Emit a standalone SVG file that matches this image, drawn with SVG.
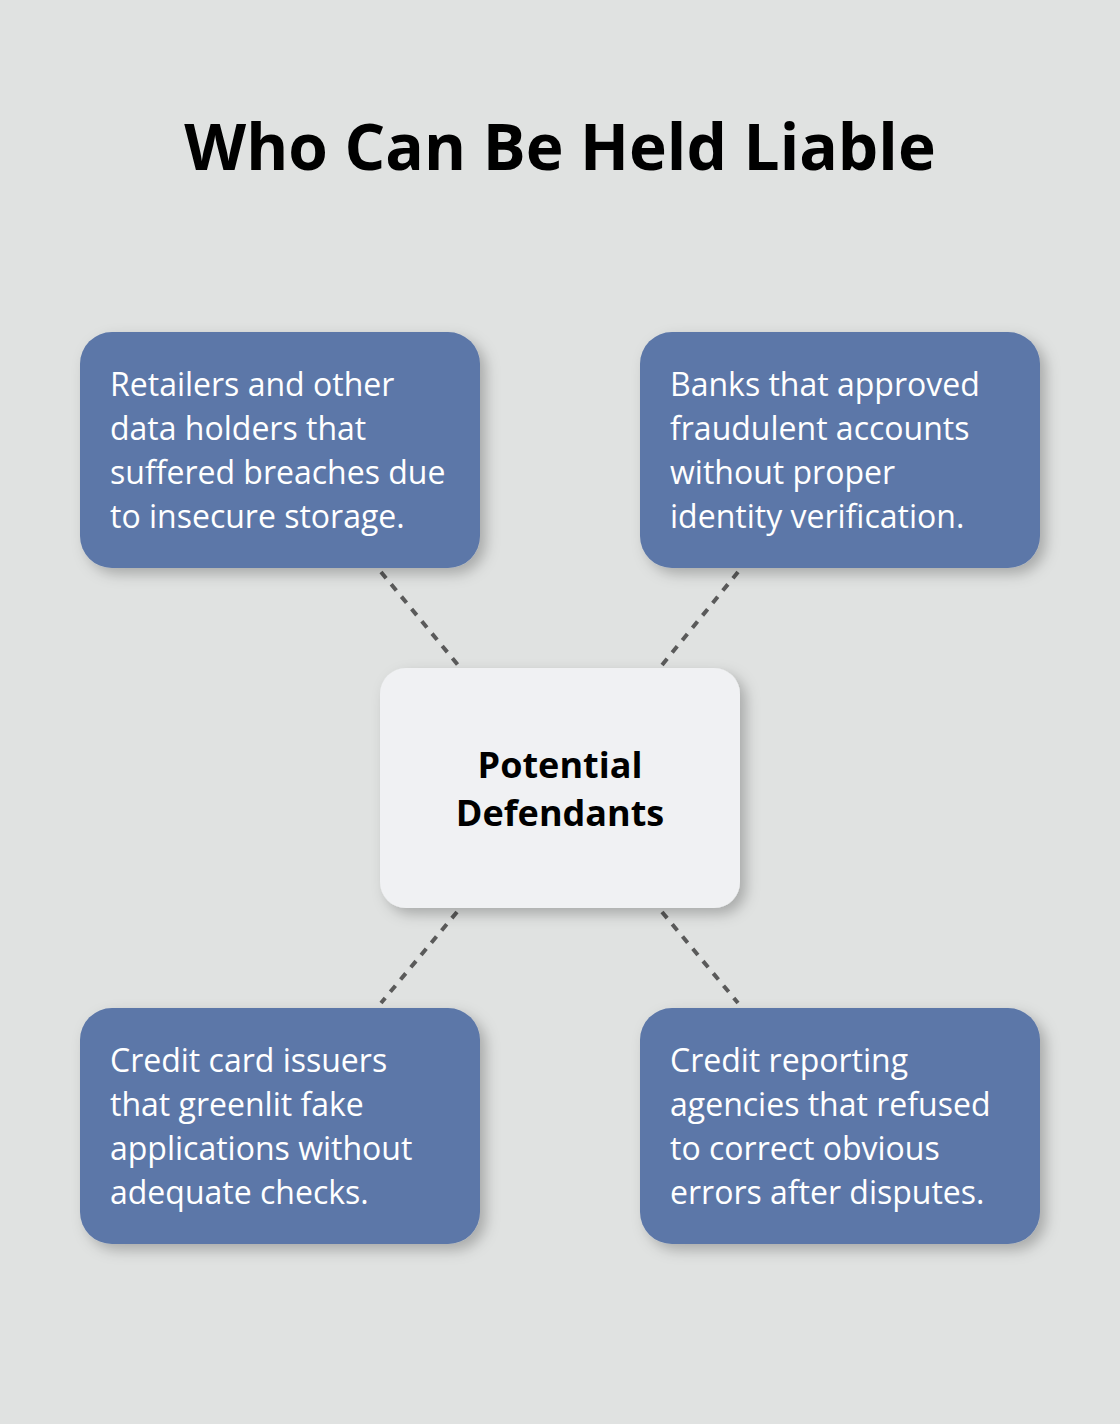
<svg xmlns="http://www.w3.org/2000/svg" width="1120" height="1424" viewBox="0 0 1120 1424">
<defs>
<filter id="sh" x="-20%" y="-20%" width="150%" height="150%">
<feDropShadow dx="6" dy="6" stdDeviation="7" flood-color="#000" flood-opacity="0.25"/>
</filter>
<style>
.title{font-family:"Open Sans","Noto Sans",sans-serif;font-weight:700;font-size:64px;fill:#000;}
.box{fill:#5c77a8;filter:url(#sh);}
.cbox{fill:#f0f1f3;filter:url(#sh);}
.t{font-family:"Open Sans","Noto Sans",sans-serif;font-size:32px;fill:#fff;}
.ct{font-family:"Open Sans","Noto Sans",sans-serif;font-weight:700;font-size:36px;fill:#000;text-anchor:middle;}
.conn{stroke:#5a5a5a;stroke-width:4;stroke-dasharray:8 8;fill:none;}
</style>
</defs>
<rect width="1120" height="1424" fill="#e0e2e1"/>
<text class="title" x="560" y="170" text-anchor="middle">Who Can Be Held Liable</text>
<g id="connectors">
<line class="conn" x1="381" y1="572" x2="458" y2="665"/>
<line class="conn" x1="738" y1="572" x2="662" y2="665"/>
<line class="conn" x1="457" y1="912" x2="381" y2="1003"/>
<line class="conn" x1="662" y1="912" x2="738" y2="1003"/>
</g>
<g id="center">
<rect class="cbox" x="380" y="668" width="360" height="240" rx="26"/>
<text class="ct" x="560" y="778">Potential</text>
<text class="ct" x="560" y="826">Defendants</text>
</g>
<g id="retailers">
<rect class="box" x="80" y="332" width="400" height="236" rx="32"/>
<text class="t"><tspan x="110" y="396">Retailers and other</tspan><tspan x="110" y="440">data holders that</tspan><tspan x="110" y="484">suffered breaches due</tspan><tspan x="110" y="528">to insecure storage.</tspan></text>
</g>
<g id="banks">
<rect class="box" x="640" y="332" width="400" height="236" rx="32"/>
<text class="t"><tspan x="670" y="396">Banks that approved</tspan><tspan x="670" y="440">fraudulent accounts</tspan><tspan x="670" y="484">without proper</tspan><tspan x="670" y="528">identity verification.</tspan></text>
</g>
<g id="card-issuers">
<rect class="box" x="80" y="1008" width="400" height="236" rx="32"/>
<text class="t"><tspan x="110" y="1072">Credit card issuers</tspan><tspan x="110" y="1116">that greenlit fake</tspan><tspan x="110" y="1160">applications without</tspan><tspan x="110" y="1204">adequate checks.</tspan></text>
</g>
<g id="reporting-agencies">
<rect class="box" x="640" y="1008" width="400" height="236" rx="32"/>
<text class="t"><tspan x="670" y="1072">Credit reporting</tspan><tspan x="670" y="1116">agencies that refused</tspan><tspan x="670" y="1160">to correct obvious</tspan><tspan x="670" y="1204">errors after disputes.</tspan></text>
</g>
</svg>
